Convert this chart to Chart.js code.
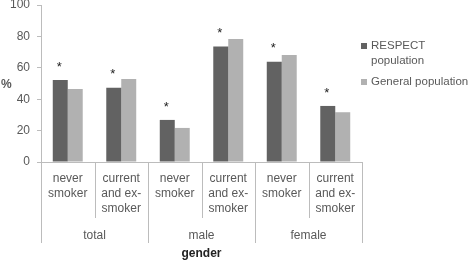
<!DOCTYPE html>
<html lang="en">
<head>
  <meta charset="UTF-8" />
  <title>Smoking status by gender</title>
  <script src="https://cdn.jsdelivr.net/npm/chart.js"></script>
  <style>
    html, body { margin: 0; padding: 0; background: #fff; }
    #wrap { width: 472px; height: 261px; }
  </style>
</head>
<body>
  <div id="wrap"><canvas id="smokeChart" width="472" height="261"></canvas></div>

  <script>
    // values (%)
    const categories = [
      ['never', 'smoker'], ['current', 'and ex-', 'smoker'],
      ['never', 'smoker'], ['current', 'and ex-', 'smoker'],
      ['never', 'smoker'], ['current', 'and ex-', 'smoker']
    ];
    const groups = ['total', 'male', 'female'];
    const respect = [52.2, 47.3, 26.8, 73.5, 63.9, 35.7];
    const general = [46.5, 52.9, 21.7, 78.3, 68.2, 31.7];
    const significant = [true, true, true, true, true, true];
    const seriesNames = [['RESPECT', 'population'], ['General population']];

    const textColor = '#595959';
    const lineColor = '#bcbcbc';
    const font = 'Liberation Sans, Arial, sans-serif';

    // asterisks, the long dividers under the x axis, "%" and the legend
    const extras = {
      id: 'extras',
      afterDraw(chart) {
        const ctx = chart.ctx;
        const x = chart.scales.x;
        const x2 = chart.scales.x2;
        const area = chart.chartArea;
        ctx.save();

        // dividers between categories and groups
        ctx.strokeStyle = lineColor;
        ctx.lineWidth = 1;
        for (let i = 0; i <= categories.length; i++) {
          const px = Math.round(x.getPixelForValue(i - 0.5)) + 0.5;
          const end = i % 2 === 0 ? x2.top + 21 : x.bottom - 4;
          ctx.beginPath();
          ctx.moveTo(px, x.top);
          ctx.lineTo(px, end);
          ctx.stroke();
        }

        // significance asterisks over RESPECT bars
        const meta = chart.getDatasetMeta(0);
        ctx.fillStyle = '#222';
        ctx.font = '13px ' + font;
        ctx.textAlign = 'center';
        ctx.textBaseline = 'middle';
        meta.data.forEach((bar, i) => {
          if (significant[i]) ctx.fillText('*', bar.x - 1, bar.y - 13);
        });

        // y axis label
        ctx.fillStyle = textColor;
        ctx.font = 'bold 12px ' + font;
        ctx.textAlign = 'left';
        ctx.fillText('%', 1, 85);

        // legend
        ctx.font = '11.5px ' + font;
        const lx = area.right - 1;
        let ly = 46;
        chart.data.datasets.forEach((ds, i) => {
          ctx.fillStyle = ds.backgroundColor;
          ctx.fillRect(lx, ly - 3, 6, 6);
          ctx.fillStyle = textColor;
          seriesNames[i].forEach((line, j) => {
            ctx.fillText(line, lx + 10, ly + j * 15);
          });
          ly += seriesNames[i].length * 15 + 6;
        });
        ctx.restore();
      }
    };

    new Chart(document.getElementById('smokeChart'), {
      type: 'bar',
      data: {
        labels: categories,
        datasets: [
          { label: 'RESPECT population', data: respect, backgroundColor: '#626262' },
          { label: 'General population', data: general, backgroundColor: '#b1b1b1' }
        ]
      },
      options: {
        responsive: false,
        animation: false,
        events: [],
        layout: { padding: { top: 5, right: 110, bottom: 0, left: 0 } },
        datasets: { bar: { barPercentage: 1, categoryPercentage: 0.56 } },
        plugins: { legend: { display: false }, tooltip: { enabled: false } },
        scales: {
          y: {
            min: 0,
            max: 100,
            ticks: { stepSize: 20, color: textColor, padding: 7, font: { family: font, size: 12 } },
            grid: { drawOnChartArea: false, drawTicks: true, tickLength: 4, color: lineColor },
            border: { color: lineColor },
            afterFit(scale) {
              scale.width = 41;
              scale.paddingTop = 0;
              scale.paddingBottom = 0;
            }
          },
          x: {
            ticks: {
              color: textColor, padding: 9, maxRotation: 0, autoSkip: false,
              font: { family: font, size: 12, lineHeight: 1.25 }
            },
            grid: { display: false, drawTicks: false },
            border: { color: lineColor },
            afterFit(scale) {
              scale.height = 60;
              scale.paddingLeft = 0;
              scale.paddingRight = 0;
            }
          },
          x2: {
            type: 'category',
            labels: groups,
            position: 'bottom',
            offset: true,
            ticks: { color: textColor, padding: 6, font: { family: font, size: 12 } },
            grid: { display: false, drawTicks: false },
            border: { display: false },
            title: {
              display: true, text: 'gender', color: '#222',
              padding: { top: 0, bottom: 0 },
              font: { family: font, size: 12, weight: 'bold' }
            },
            afterFit(scale) {
              scale.height = 39;
              scale.paddingLeft = 0;
              scale.paddingRight = 0;
            }
          }
        }
      },
      plugins: [extras]
    });
  </script>
</body>
</html>
